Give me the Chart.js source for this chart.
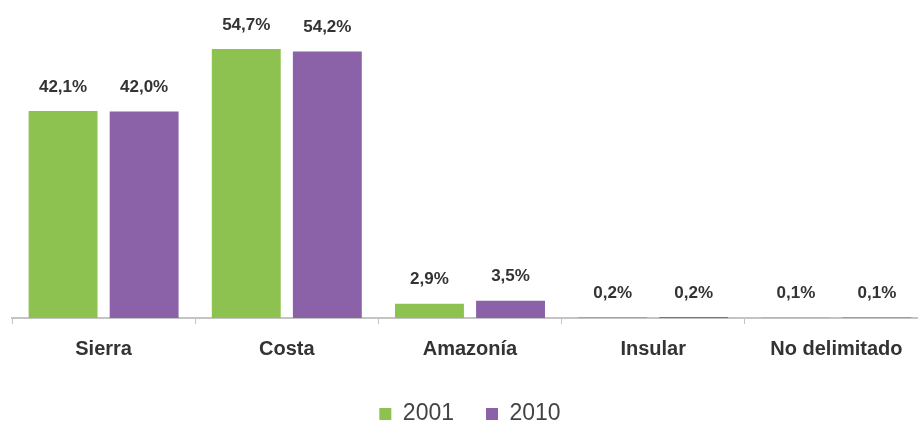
<!DOCTYPE html>
<html>
<head>
<meta charset="utf-8">
<script src="https://cdn.jsdelivr.net/npm/chart.js@4/dist/chart.umd.min.js"></script>
<style>
  html, body { margin: 0; padding: 0; background: #ffffff; overflow: hidden; }
  #wrap { position: relative; width: 928px; height: 440px; }
</style>
</head>
<body>
<div id="wrap"><canvas id="chart"></canvas></div>
<script>
// Population share by natural region, census years 2001 and 2010 (%)
const regions = ['Sierra', 'Costa', 'Amazonía', 'Insular', 'No delimitado'];
const share2001 = [42.1, 54.7, 2.9, 0.2, 0.1];
const share2010 = [42.0, 54.2, 3.5, 0.2, 0.1];
const seriesNames = ['2001', '2010'];

const TEXT = '#333333';
const LEGEND_TEXT = '#444444';
const AXIS = '#c4c4c4';

// Percent labels above each bar, written with a decimal comma
const barValueLabels = {
  id: 'barValueLabels',
  afterDatasetsDraw(chart) {
    const ctx = chart.ctx;
    ctx.save();
    ctx.font = 'bold 17px "Liberation Sans", Arial, sans-serif';
    ctx.fillStyle = TEXT;
    ctx.textAlign = 'center';
    ctx.textBaseline = 'middle';
    chart.data.datasets.forEach((ds, di) => {
      chart.getDatasetMeta(di).data.forEach((bar, i) => {
        const txt = ds.data[i].toFixed(1).replace('.', ',') + '%';
        ctx.fillText(txt, bar.x, bar.y - 24);
      });
    });
    ctx.restore();
  }
};

new Chart(document.getElementById('chart'), {
  type: 'bar',
  data: {
    labels: regions,
    datasets: [
      { label: seriesNames[0], data: share2001, backgroundColor: '#8dc150' },
      { label: seriesNames[1], data: share2010, backgroundColor: '#8b62a8' }
    ]
  },
  options: {
    responsive: true,
    maintainAspectRatio: false,
    animation: false,
    layout: { padding: { left: 12, right: 0, top: 23, bottom: 4.5 } },
    datasets: { bar: { categoryPercentage: 0.885, barPercentage: 0.85 } },
    scales: {
      x: {
        grid: { offset: true, drawOnChartArea: false, drawTicks: true, tickLength: 6, color: AXIS, lineWidth: 1 },
        border: { display: true, color: AXIS, width: 2 },
        ticks: {
          color: TEXT,
          padding: 13,
          maxRotation: 0,
          font: { family: '"Liberation Sans", Arial, sans-serif', size: 20, weight: 'bold' }
        },
        afterFit(scale) { scale.height = 52.5; }
      },
      y: { display: false, min: 0, max: 60 }
    },
    plugins: {
      legend: {
        position: 'bottom',
        labels: {
          boxWidth: 12,
          boxHeight: 12,
          padding: 32,
          color: LEGEND_TEXT,
          font: { family: '"Liberation Sans", Arial, sans-serif', size: 23 }
        }
      },
      tooltip: { enabled: false }
    }
  },
  plugins: [barValueLabels]
});
</script>
</body>
</html>
